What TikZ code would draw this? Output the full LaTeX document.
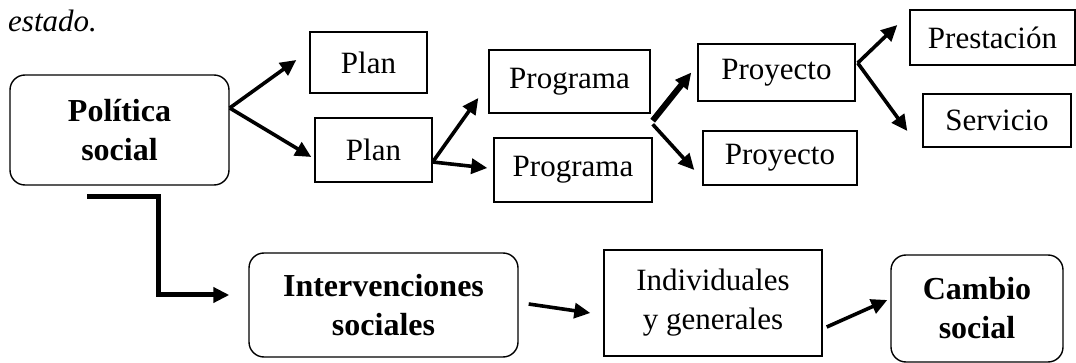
\documentclass[tikz,border=0pt]{standalone}
\usepackage{fontspec}
\setmainfont{Liberation Serif}
\usepackage{tikz}
\usetikzlibrary{positioning,arrows.meta}

\tikzset{
  caja/.style={rectangle, draw, line width=1.4pt, inner sep=0pt, align=center, font=\fontsize{31}{39}\selectfont},
  cajaredonda/.style={caja, rounded corners=15pt, font=\bfseries\fontsize{32}{39}\selectfont},
  flecha/.style={-{Triangle[length=16pt,width=15pt]}, line width=3.6pt}
}

\begin{document}
\begin{tikzpicture}[x=1pt, y=-1pt]
        \useasboundingbox (0,0) rectangle (1076,363);

        % Texto de arriba
        \node[anchor=base west, inner sep=0pt, font=\itshape\fontsize{31}{39}\selectfont] (est) at (8,32) {estado.};

        % Cajas redondeadas
        \node[cajaredonda, minimum width=219pt, minimum height=110pt] (pol) at (119.5,130) {Política\\social};
        \node[cajaredonda, minimum width=269pt, minimum height=104pt] (inter) at (383.5,305) {Intervenciones\\sociales};
        \node[cajaredonda, minimum width=172pt, minimum height=107pt] (cambio) at (977,308.5) {Cambio\\social};

        % Cajas rectangulares
        \foreach \nom/\x/\y/\w/\h/\txt in {plana/368.5/62.5/117/61/Plan, planb/373.5/150/117/64/Plan,
            proga/569.5/81.5/161/63/Programa, progb/573/170/158/64/Programa,
            proya/776.5/72.5/157/57/Proyecto, proyb/780/158/154/54/Proyecto,
            prest/992.5/37.5/165/55/Prestación, serv/997/120.5/148/53/Servicio} {
          \node[caja, minimum width=\w pt, minimum height=\h pt] (\nom) at (\x,\y) {\txt};
        }
        \node[caja, minimum width=218pt, minimum height=106pt] (indiv) at (713,303) {Individuales\\y generales};

        % Flechas de arriba
        \draw[flecha] ([yshift=22pt]pol.east) -- ([xshift=-13pt,yshift=2.5pt]plana.west);
        \draw[flecha] ([yshift=22pt]pol.east) -- ([xshift=-3pt,yshift=-7pt]planb.west);
        \draw[flecha] ([yshift=-12pt]planb.east) -- ([xshift=-10pt,yshift=-16.5pt]proga.west);
        \draw[flecha] ([yshift=-12pt]planb.east) -- ([xshift=-6pt,yshift=2pt]progb.west);
        \draw[flecha, line width=6pt] ([xshift=2pt,yshift=-7pt]proga.south east) -- ([xshift=-6pt]proya.west);
        \draw[flecha] ([yshift=13pt]progb.north east) -- ([xshift=-8pt,yshift=-12pt]proyb.west);
        \draw[flecha] ([xshift=2pt,yshift=9.5pt]proya.east) -- ([xshift=-12pt,yshift=12.5pt]prest.west);
        \draw[flecha] ([xshift=2pt,yshift=9.5pt]proya.east) -- ([xshift=-15pt,yshift=-10.5pt]serv.west);

        % Flechas de abajo
        \draw[flecha, line width=5pt] ([xshift=-32.5pt,yshift=-11pt]pol.south) -- ++(71,0) |- ([xshift=-19pt,yshift=10pt]inter.west);
        \draw[flecha] ([xshift=10pt,yshift=1pt]inter.east) -- ([xshift=-13pt,yshift=-10pt]indiv.west);
        \draw[flecha] ([xshift=4pt,yshift=-24pt]indiv.east) -- ([xshift=-3pt,yshift=8.5pt]cambio.west);
    \end{tikzpicture}
\end{document}
